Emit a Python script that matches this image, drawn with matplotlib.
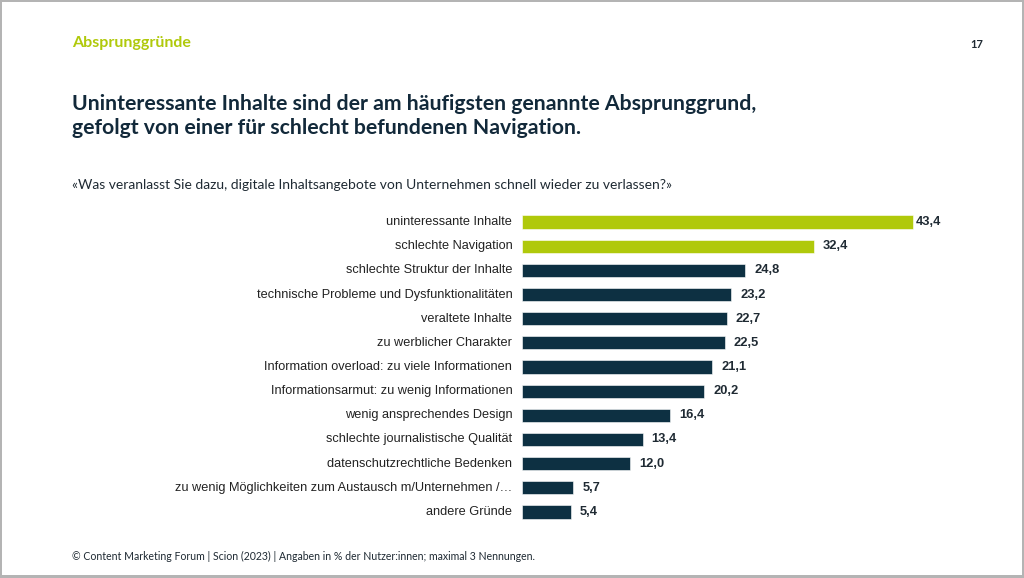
import matplotlib
matplotlib.use("Agg")
import matplotlib.pyplot as plt
from matplotlib.patches import Rectangle

# ── Data ──────────────────────────────────────────────────────────────────────
categories = [
    "uninteressante Inhalte",
    "schlechte Navigation",
    "schlechte Struktur der Inhalte",
    "technische Probleme und Dysfunktionalitäten",
    "veraltete Inhalte",
    "zu werblicher Charakter",
    "Information overload: zu viele Informationen",
    "Informationsarmut: zu wenig Informationen",
    "wenig ansprechendes Design",
    "schlechte journalistische Qualität",
    "datenschutzrechtliche Bedenken",
    "zu wenig Möglichkeiten zum Austausch m/Unternehmen /…",
    "andere Gründe",
]
values = [43.4, 32.4, 24.8, 23.2, 22.7, 22.5, 21.1, 20.2, 16.4, 13.4, 12.0, 5.7, 5.4]
highlight = [True, True] + [False] * 11

# ── Style ─────────────────────────────────────────────────────────────────────
GREEN = "#B0C90B"
NAVY  = "#0D3042"
TEXT  = "#1F2A33"
BORDER = "#B4B4B4"
W, H = 1024, 578

fig = plt.figure(figsize=(W / 100, H / 100), dpi=100)
fig.patch.set_facecolor("white")

def fx(px):
    return px / W

def fy(py):
    return 1 - py / H

# ── Bars ──────────────────────────────────────────────────────────────────────
x0, x1 = 522, 1000
y_top, y_bot = 210, 524
ax = fig.add_axes([fx(x0), fy(y_bot), fx(x1 - x0), (y_bot - y_top) / H])
px_per_unit = 9.01
ax.set_xlim(0, (x1 - x0) / px_per_unit)
ax.set_ylim(len(categories) - 0.5, -0.5)
ax.axis("off")

ypos = list(range(len(categories)))
colors = [GREEN if h else NAVY for h in highlight]
ax.barh(ypos, values, height=0.55, color=colors, edgecolor="white", linewidth=0.4)

# value labels sit outside the bar end, but are held inside the plot area
label_max = 43.73
for y, v, lab in zip(ypos, values, categories):
    ax.text(min(v + 1.0, label_max), y, f"{v:.1f}".replace(".", ","),
            va="center", ha="left", fontsize=9.3, fontweight="bold",
            color=TEXT, family="Liberation Sans")
    ax.annotate(lab, xy=(0, y), xytext=(-7, 0), textcoords="offset points",
                va="center", ha="right", fontsize=9.2, color="#222222",
                family="Liberation Sans")

# ── Texts ─────────────────────────────────────────────────────────────────────
fig.text(fx(72), fy(43), "Absprunggründe", fontsize=11.5, fontweight="bold",
         color=GREEN, family="Lato", va="center")
fig.text(fx(983), fy(44), "17", fontsize=8, fontweight="bold",
         color=TEXT, family="Lato", va="center", ha="right")
fig.text(fx(72), fy(116),
         "Uninteressante Inhalte sind der am häufigsten genannte Absprunggrund,\n"
         "gefolgt von einer für schlecht befundenen Navigation.",
         fontsize=15.3, fontweight="bold", color="#12293A", family="Lato",
         va="center", linespacing=1.2)
fig.text(fx(72), fy(185),
         "«Was veranlasst Sie dazu, digitale Inhaltsangebote von Unternehmen "
         "schnell wieder zu verlassen?»",
         fontsize=10, color=TEXT, family="Lato", va="center")
fig.text(fx(72), fy(556),
         "© Content Marketing Forum | Scion (2023) | Angaben in % der "
         "Nutzer:innen; maximal 3 Nennungen.",
         fontsize=7.6, color=TEXT, family="Lato", va="center")

# ── Slide border ──────────────────────────────────────────────────────────────
for (bx, by, bw, bh) in [(0, 0, 2, H), (0, 0, W, 2), (1022, 0, 2, H), (0, 575, W, 3)]:
    fig.patches.append(Rectangle((fx(bx), fy(by + bh)), fx(bw), bh / H,
                                 transform=fig.transFigure, color=BORDER,
                                 linewidth=0))

fig.savefig("out.png", dpi=100, facecolor="white")
